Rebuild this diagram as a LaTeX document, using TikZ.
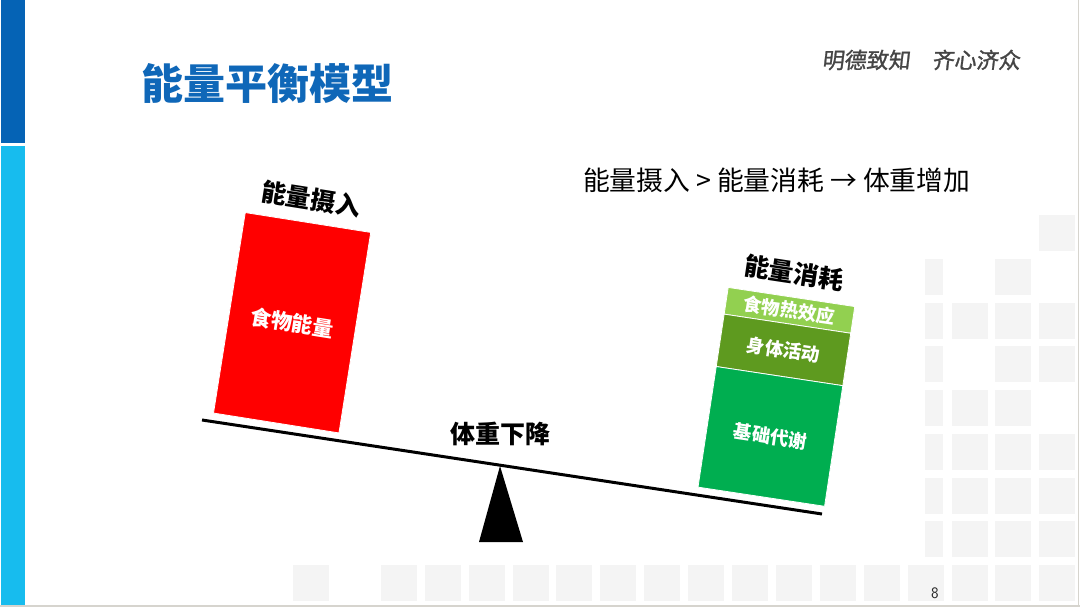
\documentclass[tikz,border=0pt]{standalone}
\usepackage{fontspec}
\newfontfamily\cjk{Noto Sans CJK SC}
\newfontfamily\cjkslant[FakeSlant=0.12,FakeBold=1.2]{Noto Sans CJK SC}
\definecolor{darkblue}{HTML}{0563B5}
\definecolor{lightblue}{HTML}{17BCEE}
\definecolor{titleblue}{HTML}{0F67B8}
\definecolor{bggray}{HTML}{F4F4F4}
\definecolor{bordergray}{HTML}{D6D4CE}
\definecolor{boxred}{HTML}{FF0000}
\definecolor{lgreen}{HTML}{92D050}
\definecolor{dgreen}{HTML}{5E9A1F}
\definecolor{mgreen}{HTML}{00AE50}
\definecolor{mottogray}{HTML}{454545}
\tikzset{
  txt/.style={inner sep=0pt, outer sep=0pt},
  lbl/.style={txt, text=black, font=\cjk\bfseries\fontsize{25}{25}\selectfont},
  boxtxt/.style={inner sep=0pt, outer sep=0pt, text=white, draw=white, line width=0.8pt},
  band/.style={boxtxt, minimum width=128pt, anchor=north, rotate=-8.6,
    font=\cjk\bfseries\fontsize{18.5}{18.5}\selectfont},
  sq/.style={fill=bggray}
}
\begin{document}
\begin{tikzpicture}[x=1pt,y=-1pt]
\useasboundingbox (0,0) rectangle (1080,607);
\fill[white] (0,0) rectangle (1080,607);
% background squares
\foreach \k in {0,2,3,...,17} \fill[sq] ({293+43.9*\k},565) rectangle ++(36,36);
\foreach \r/\cols in {1/{15,16,17},2/{15,16,17},3/{15,16,17},4/{15,16},5/{16,17},6/{15,16,17},7/{16},8/{17}} {
  \foreach \k in \cols \fill[sq] ({293+43.9*\k},{565-43.75*\r}) rectangle ++(36,36);
}
\foreach \r in {1,...,7} \fill[sq] (925,{565-43.75*\r}) rectangle ++(18,36);
% frame
\fill[darkblue] (1,0) rectangle (25,143);
\fill[lightblue] (1,146) rectangle (25,605);
\fill[bordergray] (0,604.5) rectangle (1080,607);
\fill[bordergray] (1077.5,0) rectangle (1079,607);
% title and motto
\node[txt, anchor=west, text=titleblue, font=\cjk\bfseries\fontsize{42}{42}\selectfont] (title) at (141,83) {能量平衡模型};
\node[txt, anchor=west, text=mottogray, font=\cjkslant\fontsize{22}{22}\selectfont] (motto) at (822,60) {明德致知　齐心济众};
\node[txt, anchor=west, text=black, font=\cjk\fontsize{26.8}{26.8}\selectfont] (rule) at (583,180) {能量摄入 > 能量消耗 → 体重增加};
% beam and fulcrum
\coordinate (bl) at (202,420);
\coordinate (br) at (822,514);
\coordinate (apex) at (500,466);
\coordinate (baseL) at (479,542);
\coordinate (baseR) at (523,542);
\fill[black] (apex) -- (baseL) -- (baseR) -- cycle;
\draw[line width=3pt] (bl) -- (br);
\node[lbl] (change) at (500,434) {体重下降};
% intake box
\node[boxtxt, fill=boxred, minimum width=127pt, minimum height=203pt, rotate=-9, anchor=north,
  font=\cjk\bfseries\fontsize{21}{21}\selectfont] (food) at (308,222.5) {食物能量};
\node[lbl, rotate=-9] (intake) at (311,199) {能量摄入};
% expenditure stack
\node[band, fill=lgreen, minimum height=27pt] (tef) at (791.5,297) {食物热效应};
\node[band, fill=dgreen, minimum height=53pt] (pa) at (tef.south) {身体活动};
\node[band, fill=mgreen, minimum height=122pt] (bmr) at (pa.south) {基础代谢};
\node[lbl, rotate=-8.6] (output) at (794,273) {能量消耗};
% page number
\node[txt, text=black!85, font=\sffamily\fontsize{16}{16}\selectfont] (page) at (935,593) {8};
\end{tikzpicture}
\end{document}
